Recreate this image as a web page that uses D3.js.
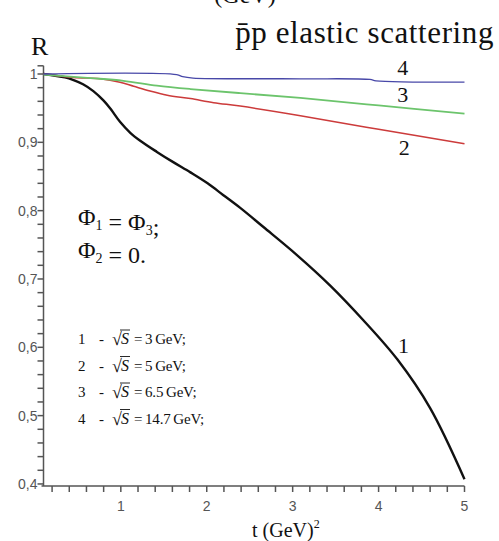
<!DOCTYPE html>
<html lang="en">
<head>
<meta charset="UTF-8" />
<title>pbar-p elastic scattering R(t)</title>
<style>
  body { margin: 0; background: #fff; overflow: hidden; }
  svg { display: block; }
  .serif { font-family: "Liberation Serif", "Tinos", "DejaVu Serif", serif; fill: #111; }
  .tick-label { font-family: "Liberation Sans", Arial, sans-serif; font-size: 14px; fill: #555; }
  .axis-line { stroke: #555; stroke-width: 1.5; fill: none; }
</style>
</head>
<body>
<svg width="499" height="541"></svg>
<script src="https://d3js.org/d3.v7.min.js"></script>
<script>
// curves: [t, R]
const curve1 = [[0.1, 1.0], [0.35, 0.995], [0.45, 0.991], [0.56, 0.985], [0.68, 0.975], [0.8, 0.961],
  [0.88, 0.949], [0.99, 0.930], [1.11, 0.914], [1.23, 0.902], [1.42, 0.886], [1.61, 0.871],
  [1.81, 0.856], [2.01, 0.840], [2.19, 0.823], [2.39, 0.804], [2.66, 0.776], [3.05, 0.735],
  [3.44, 0.690], [3.82, 0.640], [4.22, 0.582], [4.6, 0.511], [5.0, 0.407]];
const curve2 = [[0.1, 1.0], [0.45, 0.995], [0.76, 0.993], [0.99, 0.988], [1.15, 0.982], [1.34, 0.975],
  [1.54, 0.969], [1.81, 0.964], [2.08, 0.958], [2.39, 0.953], [3.09, 0.939], [4.0, 0.919], [5.0, 0.898]];
const curve3 = [[0.1, 0.999], [0.65, 0.994], [1.03, 0.990], [1.42, 0.983], [1.81, 0.978], [2.39, 0.972],
  [3.09, 0.965], [4.0, 0.954], [5.0, 0.942]];
const curve4 = [[0.1, 1.0], [1.65, 0.999], [1.72, 0.996], [1.84, 0.994], [3.09, 0.993], [3.9, 0.992],
  [3.97, 0.990], [5.0, 0.988]];

const curves = [curve1, curve2, curve3, curve4];
const curveColors = ["#111111", "#cc3b3b", "#6cc46c", "#4848a8"];
const curveWidths = [2.4, 1.5, 1.8, 1.3];
const curveNames = ["1", "2", "3", "4"];
// where the number label of each curve sits [t, R]
const curveLabelPos = [[4.29, 0.591], [4.3, 0.881], [4.28, 0.959], [4.28, 0.9985]];

const yMajor = [0.4, 0.5, 0.6, 0.7, 0.8, 0.9, 1.0];
const xMajor = [1, 2, 3, 4, 5];

const legendNums = ["1", "2", "3", "4"];
const legendEnergies = ["3", "5", "6.5", "14.7"];

const svg = d3.select("svg");

const x = d3.scaleLinear().domain([0.1, 5]).range([43.5, 464.5]);
const y = d3.scaleLinear().domain([0.397, 1.012]).range([486, 65.8]);

// cut-off text at very top
svg.append("text").attr("class", "serif")
  .attr("x", 245).attr("y", 3).attr("text-anchor", "middle")
  .attr("font-size", 24).text("(GeV)");

// title
svg.append("text").attr("class", "serif")
  .attr("x", 494).attr("y", 43).attr("text-anchor", "end")
  .attr("font-size", 31).attr("letter-spacing", 0.6)
  .text("p\u0304p elastic scattering");

svg.append("text").attr("class", "serif")
  .attr("x", 31).attr("y", 55).attr("font-size", 26).text("R");

// y axis
const yAxis = svg.append("g");
yAxis.append("line").attr("class", "axis-line")
  .attr("x1", x(0.1)).attr("x2", x(0.1)).attr("y1", y.range()[1]).attr("y2", y.range()[0]);
const yMinor = d3.range(20, 51).map(d => d / 50);
yAxis.selectAll("line.tk").data(yMinor.concat([1.012])).join("line")
  .attr("class", "axis-line tk")
  .attr("x1", x(0.1) - 6).attr("x2", x(0.1))
  .attr("y1", d => y(d)).attr("y2", d => y(d));
yAxis.selectAll("text").data(yMajor).join("text")
  .attr("class", "tick-label")
  .attr("x", x(0.1) - 6).attr("y", d => y(d) + 5)
  .attr("text-anchor", "end")
  .text(d => d === 1 ? "1" : d3.format(".1f")(d).replace(".", ","));

// x axis
const xAxis = svg.append("g");
xAxis.append("line").attr("class", "axis-line")
  .attr("x1", x(0.1) - 2).attr("x2", x(5)).attr("y1", y(0.397)).attr("y2", y(0.397));
const xMinor = d3.range(1, 26).map(d => d / 5);
xAxis.selectAll("line.tk").data(xMinor).join("line")
  .attr("class", "axis-line tk")
  .attr("x1", d => x(d)).attr("x2", d => x(d))
  .attr("y1", y(0.397)).attr("y2", y(0.397) + 6);
xAxis.selectAll("text").data(xMajor).join("text")
  .attr("class", "tick-label")
  .attr("x", d => x(d)).attr("y", 511)
  .attr("text-anchor", "middle")
  .text(d => d);

const xl = svg.append("text").attr("class", "serif")
  .attr("x", 252).attr("y", 537).attr("font-size", 20);
xl.append("tspan").text("t (GeV)");
xl.append("tspan").attr("font-size", 12).attr("dy", -9).text("2");

// curves
const line = d3.line().x(d => x(d[0])).y(d => y(d[1])).curve(d3.curveCatmullRom.alpha(0.5));
svg.append("g").selectAll("path").data(curves).join("path")
  .attr("d", line)
  .attr("fill", "none")
  .attr("stroke", (d, i) => curveColors[i])
  .attr("stroke-width", (d, i) => curveWidths[i])
  .attr("stroke-linejoin", "round");

svg.append("g").selectAll("text").data(curveNames).join("text")
  .attr("class", "serif")
  .attr("x", (d, i) => x(curveLabelPos[i][0]))
  .attr("y", (d, i) => y(curveLabelPos[i][1]))
  .attr("text-anchor", "middle")
  .attr("font-size", 22)
  .text(d => d);

// phi conditions
function phiLine(yPos, parts) {
  const t = svg.append("text").attr("class", "serif")
    .attr("x", 78).attr("y", yPos).attr("font-size", 24);
  parts.forEach(p => {
    if (p.sub) {
      t.append("tspan").attr("font-size", 14).attr("dy", 5).text(p.sub);
      t.append("tspan").attr("dy", -5).text("");
    } else {
      t.append("tspan").text(p.s);
    }
  });
}
phiLine(225, [{ s: "\u03A6" }, { sub: "1" }, { s: " = \u03A6" }, { sub: "3" }, { s: ";" }]);
phiLine(258, [{ s: "\u03A6" }, { sub: "2" }, { s: " = 0." }]);

// legend of energies
const legend = svg.append("g");
legendNums.forEach((n, i) => {
  const yy = 344 + i * 26.5;
  const g = legend.append("g");
  g.append("text").attr("class", "serif").attr("x", 78).attr("y", yy)
    .attr("font-size", 15).text(n);
  g.append("text").attr("class", "serif").attr("x", 99).attr("y", yy)
    .attr("font-size", 15).text("-");
  g.append("text").attr("class", "serif").attr("x", 112).attr("y", yy + 1)
    .attr("font-size", 18).text("\u221A");
  const s = g.append("text").attr("class", "serif").attr("x", 121).attr("y", yy)
    .attr("font-size", 16).attr("font-style", "italic").text("S");
  const w = s.node().getComputedTextLength();
  g.append("line").attr("x1", 120).attr("x2", 122 + w)
    .attr("y1", yy - 14).attr("y2", yy - 14)
    .attr("stroke", "#111").attr("stroke-width", 0.9);
  g.append("text").attr("class", "serif").attr("x", 124 + w + 2).attr("y", yy)
    .attr("font-size", 15).attr("letter-spacing", -0.2)
    .text("=\u2009" + legendEnergies[i] + "\u2009GeV;");
});
</script>
</body>
</html>
